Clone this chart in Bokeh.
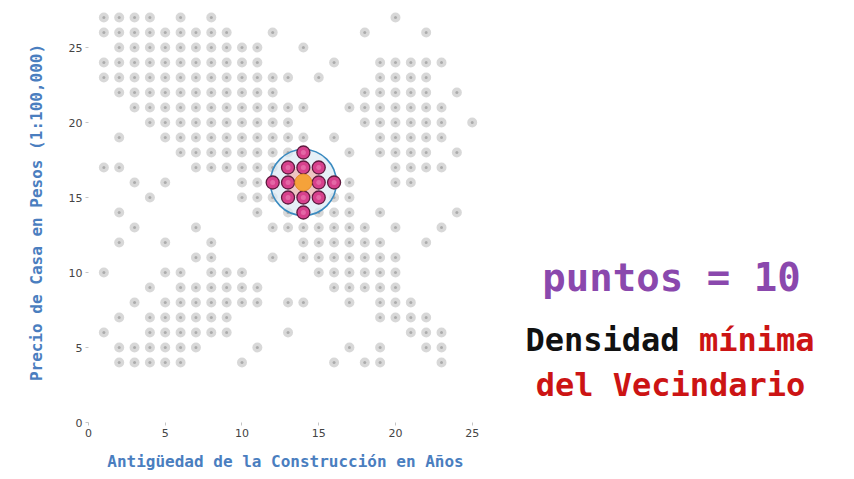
from bokeh.plotting import figure
from bokeh.layouts import row
from bokeh.models import Range1d, SingleIntervalTicker
from bokeh.core.properties import value
from bokeh.embed import file_html
from bokeh.resources import INLINE

# ---- data: gray points, one list of x values per y row ----
row_27 = [1, 2, 3, 4, 6, 8, 20]
row_26 = [1, 2, 3, 4, 5, 6, 7, 8, 9, 12, 18, 22]
row_25 = [2, 3, 4, 5, 6, 7, 8, 9, 10, 11, 14]
row_24 = [1, 2, 3, 4, 5, 6, 7, 8, 9, 10, 11, 16, 19, 20, 21, 22, 23]
row_23 = [1, 2, 3, 4, 5, 6, 7, 8, 9, 10, 11, 12, 13, 15, 19, 20, 21, 22]
row_22 = [2, 3, 4, 5, 6, 7, 8, 9, 10, 11, 12, 18, 19, 20, 21, 22, 24]
row_21 = [3, 4, 5, 6, 7, 8, 9, 10, 11, 12, 13, 14, 17, 18, 19, 20, 21, 22, 23]
row_20 = [4, 5, 6, 7, 8, 9, 10, 11, 12, 13, 18, 19, 20, 21, 22, 23, 25]
row_19 = [2, 5, 6, 7, 8, 9, 10, 11, 12, 13, 14, 16, 19, 20, 21, 22, 23]
row_18 = [6, 7, 8, 9, 10, 11, 12, 13, 17, 19, 20, 21, 22, 24]
row_17 = [1, 2, 7, 8, 9, 10, 11, 12, 20, 21, 22, 23]
row_16 = [3, 5, 10, 11, 17, 20, 21]
row_15 = [4, 10, 11, 12, 16, 17]
row_14 = [2, 11, 13, 15, 16, 17, 19, 24]
row_13 = [3, 7, 12, 13, 14, 15, 16, 17, 18, 20, 23]
row_12 = [2, 5, 8, 14, 15, 16, 17, 18, 19, 22]
row_11 = [7, 8, 12, 14, 15, 16, 17, 18, 19, 20]
row_10 = [1, 5, 6, 8, 9, 10, 15, 16, 17, 18, 19, 20]
row_9 = [4, 6, 7, 8, 9, 10, 11, 16, 17, 18, 19, 20]
row_8 = [3, 5, 6, 7, 8, 9, 10, 11, 13, 14, 17, 19, 20, 21]
row_7 = [2, 4, 5, 6, 7, 8, 9, 19, 20, 21, 22]
row_6 = [1, 4, 5, 6, 7, 8, 9, 13, 21, 22, 23]
row_5 = [2, 3, 4, 5, 6, 7, 11, 17, 19, 22, 23]
row_4 = [2, 3, 4, 5, 6, 10, 16, 18, 19, 23]

rows = [(27, row_27), (26, row_26), (25, row_25), (24, row_24), (23, row_23),
        (22, row_22), (21, row_21), (20, row_20), (19, row_19), (18, row_18),
        (17, row_17), (16, row_16), (15, row_15), (14, row_14), (13, row_13),
        (12, row_12), (11, row_11), (10, row_10), (9, row_9), (8, row_8),
        (7, row_7), (6, row_6), (5, row_5), (4, row_4)]

gray_x = [x for y, xs in rows for x in xs]
gray_y = [y for y, xs in rows for x in xs]

# neighbourhood points (pink) and core point (orange)
neigh_x = [14, 13, 14, 15, 12, 13, 15, 16, 13, 14, 15, 14]
neigh_y = [18, 17, 17, 17, 16, 16, 16, 16, 15, 15, 15, 14]
core_x = [14]
core_y = [16]

x_label = "Antigüedad de la Construcción en Años"
y_label = "Precio de Casa en Pesos (1:100,000)"
txt_points = "puntos = 10"
txt_dens = "Densidad"
txt_min = "mínima"
txt_vec = "del Vecindario"

MONO = value("DejaVu Sans Mono")

# ---- scatter figure ----
p = figure(width=487, height=479, x_range=Range1d(0, 25.67), y_range=Range1d(0, 28),
           output_backend="svg", toolbar_location=None,
           min_border_left=88, min_border_right=5, min_border_top=2, min_border_bottom=57)
p.grid.visible = False
p.outline_line_color = None
p.background_fill_color = "white"
p.border_fill_color = "white"

for ax in (p.xaxis[0], p.yaxis[0]):
    ax.ticker = SingleIntervalTicker(interval=5, num_minor_ticks=0)
    ax.axis_line_color = None
    ax.major_tick_line_color = "#c4c4c4"
    ax.major_tick_in = 0
    ax.major_tick_out = 3
    ax.minor_tick_line_color = None
    ax.major_label_text_font = "DejaVu Sans"
    ax.major_label_text_font_size = "11px"
    ax.major_label_text_color = "#444444"
    ax.major_label_standoff = 3
    ax.axis_label_text_font = "DejaVu Sans Mono"
    ax.axis_label_text_font_size = "16px"
    ax.axis_label_text_font_style = "bold"
    ax.axis_label_text_color = "#4a7ebf"

p.xaxis.axis_label = x_label
p.yaxis.axis_label = y_label
p.xaxis.axis_label_standoff = 12
p.yaxis.axis_label_standoff = 20

p.scatter(gray_x, gray_y, size=10, fill_color="#d8d8d8", line_color=None)
p.scatter(gray_x, gray_y, size=3, fill_color="#a0a0a0", line_color=None, fill_alpha=0.8)

# neighbourhood circle
p.scatter(core_x, core_y, size=66, fill_color="#dce9f4", fill_alpha=0.7,
          line_color="#3b8bc0", line_width=1.6)
# glow around core
p.scatter(core_x, core_y, size=32, fill_color="#f4a9a0", fill_alpha=0.6, line_color=None)
# neighbours
p.scatter(neigh_x, neigh_y, size=13, fill_color="#d7418d", line_color="#5e1a3e", line_width=1.3)
p.scatter(neigh_x, neigh_y, size=5, fill_color="#f39ac6", fill_alpha=0.45, line_color=None)
# core
p.scatter(core_x, core_y, size=17, fill_color="#f5a23a", line_color="#e3892c", line_width=1)

# ---- text panel ----
t = figure(frame_width=367, frame_height=479, x_range=Range1d(487, 854), y_range=Range1d(479, 0),
           output_backend="svg", toolbar_location=None,
           min_border_left=0, min_border_right=0, min_border_top=0, min_border_bottom=0)
t.axis.visible = False
t.grid.visible = False
t.outline_line_color = None

t.text(x=[671], y=[275], text=[txt_points], text_font=MONO, text_font_size="39px",
       text_font_style="bold", text_color="#8a48ad", text_align="center",
       text_baseline="alphabetic")
t.text(x=[525], y=[337], text=[txt_dens], text_font=MONO, text_font_size="32px",
       text_font_style="bold", text_color="#111111", text_align="left",
       text_baseline="alphabetic")
t.text(x=[525 + 9 * 19.27], y=[337], text=[txt_min], text_font=MONO, text_font_size="32px",
       text_font_style="bold", text_color="#cc1414", text_align="left",
       text_baseline="alphabetic")
t.text(x=[670], y=[382], text=[txt_vec], text_font=MONO, text_font_size="32px",
       text_font_style="bold", text_color="#cc1414", text_align="center",
       text_baseline="alphabetic")

layout = row(p, t)
open("out.html", "w").write(file_html(layout, INLINE))
